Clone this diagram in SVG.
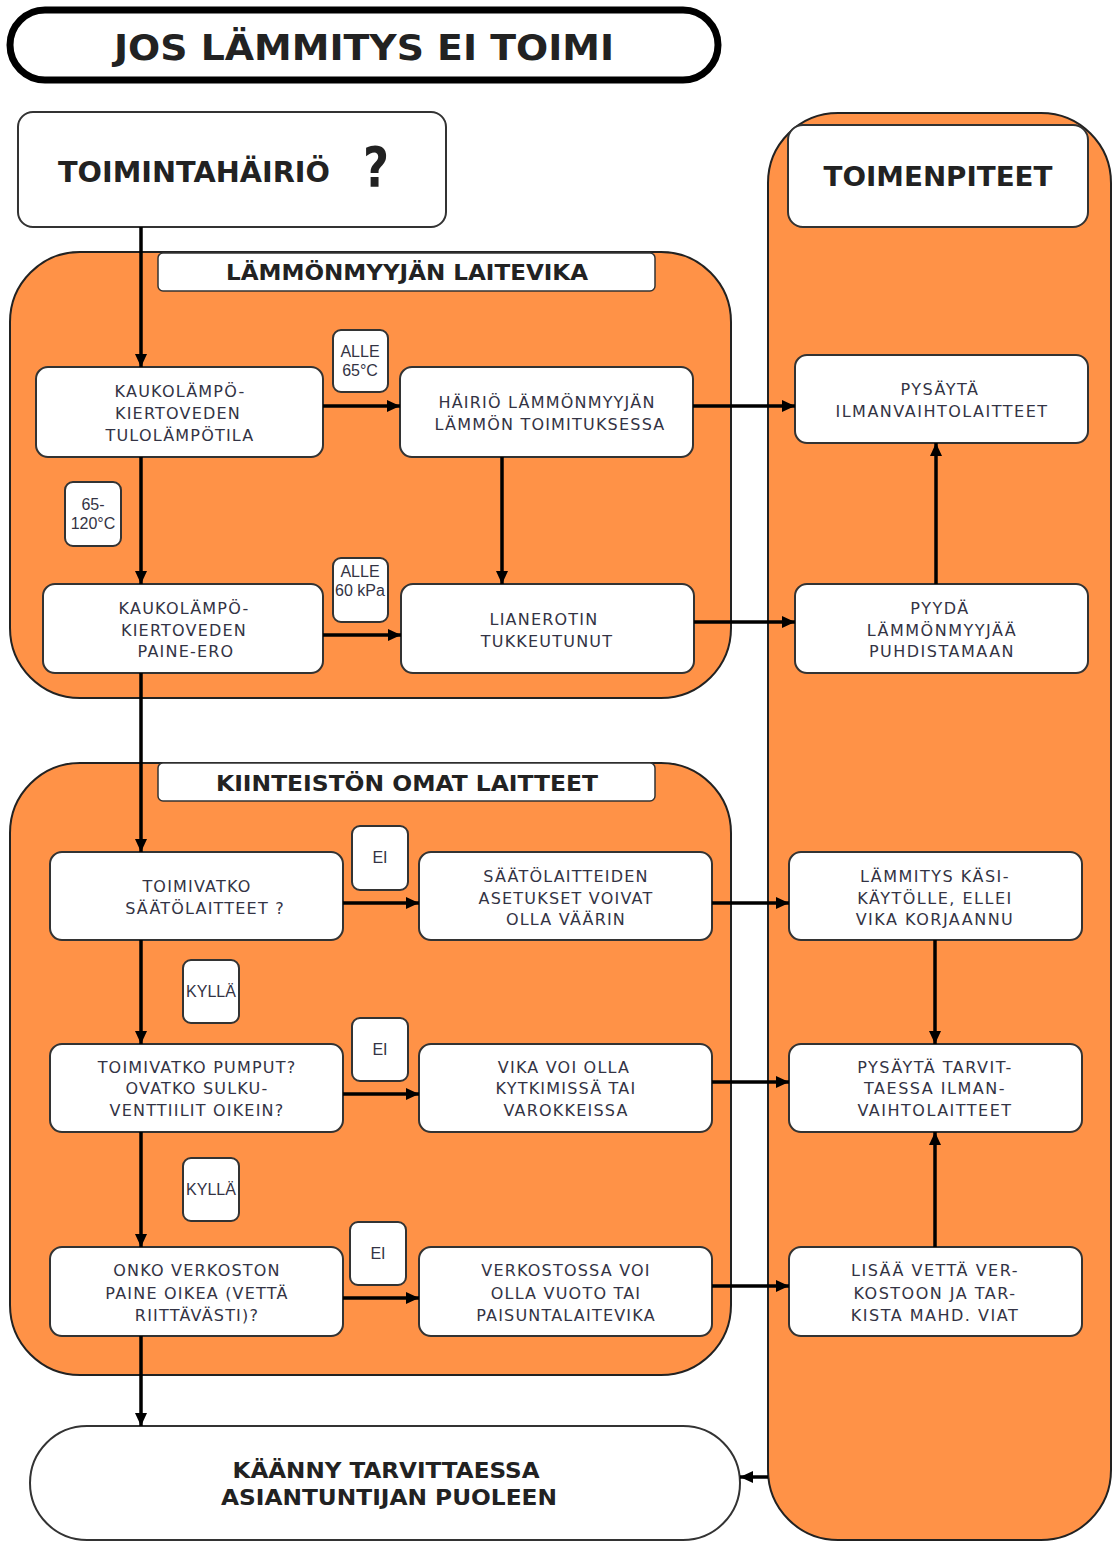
<svg xmlns="http://www.w3.org/2000/svg" width="1113" height="1544" viewBox="0 0 1113 1544">
<style>
.panel{fill:#FF9247;stroke:#222;stroke-width:2}
.box{fill:#fff;stroke:#333;stroke-width:2}
.hdr{fill:#fff;stroke:#333;stroke-width:1.5}
.t{font-family:"DejaVu Sans",Verdana,sans-serif;font-size:16px;letter-spacing:1.2px;fill:#333344;text-anchor:middle}
.tr{font-family:"DejaVu Sans",Verdana,sans-serif;font-size:16px;letter-spacing:1.5px;fill:#333344;text-anchor:middle}
.lbl{font-family:"Liberation Sans",Arial,sans-serif;font-size:16px;fill:#333344;text-anchor:middle}
.b{font-family:"DejaVu Sans",Verdana,sans-serif;font-weight:bold;fill:#222;text-anchor:middle}
.c{fill:none;stroke:#000;stroke-width:3.5;marker-end:url(#ah)}
</style>
<defs>
<marker id="ah" markerUnits="userSpaceOnUse" markerWidth="14" markerHeight="14" refX="13" refY="7" orient="auto">
<path d="M0,1 L13,7 L0,13 z" fill="#000"/>
</marker>
</defs>
<rect width="1113" height="1544" fill="#fff"/>

<g id="title">
<rect x="10" y="10" width="708" height="70" rx="35" fill="#fff" stroke="#000" stroke-width="7"/>
<text class="b" x="364" y="60" font-size="36" textLength="500" lengthAdjust="spacingAndGlyphs">JOS LÄMMITYS EI TOIMI</text>
</g>

<g id="panel-lammonmyyja">
<rect class="panel" x="10" y="252" width="721" height="446" rx="70"/>
<rect class="hdr" x="158" y="253" width="497" height="38" rx="5"/>
<text class="b" x="407" y="280" font-size="22" textLength="362" lengthAdjust="spacingAndGlyphs">LÄMMÖNMYYJÄN LAITEVIKA</text>
</g>

<g id="panel-kiinteisto">
<rect class="panel" x="10" y="763" width="721" height="612" rx="70"/>
<rect class="hdr" x="158" y="763" width="497" height="38" rx="5"/>
<text class="b" x="407" y="791" font-size="22" textLength="382" lengthAdjust="spacingAndGlyphs">KIINTEISTÖN OMAT LAITTEET</text>
</g>

<g id="panel-toimenpiteet">
<rect class="panel" x="768" y="113" width="343" height="1427" rx="70"/>
</g>

<g id="toimintahairio">
<rect class="box" x="18" y="112" width="428" height="115" rx="15"/>
<text class="b" x="194" y="182" font-size="28" textLength="272" lengthAdjust="spacingAndGlyphs">TOIMINTAHÄIRIÖ</text>
<text class="b" x="376" y="186" font-size="56" textLength="26" lengthAdjust="spacingAndGlyphs">?</text>
</g>

<g id="toimenpiteet-header">
<rect class="box" x="788" y="125" width="300" height="102" rx="15"/>
<text class="b" x="938" y="186" font-size="27" textLength="229" lengthAdjust="spacingAndGlyphs">TOIMENPITEET</text>
</g>

<g id="n-tulolampotila">
<rect class="box" x="36" y="367" width="287" height="90" rx="12"/>
<text class="t" x="180" y="397">KAUKOLÄMPÖ-</text>
<text class="t" x="178" y="419">KIERTOVEDEN</text>
<text class="t" x="180" y="441">TULOLÄMPÖTILA</text>
</g>

<g id="l-alle65">
<rect class="box" x="333" y="330" width="55" height="62" rx="8"/>
<text class="lbl" x="360" y="357">ALLE</text>
<text class="lbl" x="360" y="376">65°C</text>
</g>

<g id="n-hairio">
<rect class="box" x="400" y="367" width="293" height="90" rx="12"/>
<text class="t" x="547" y="408">HÄIRIÖ LÄMMÖNMYYJÄN</text>
<text class="t" x="550" y="430">LÄMMÖN TOIMITUKSESSA</text>
</g>

<g id="l-65-120">
<rect class="box" x="65" y="482" width="56" height="64" rx="8"/>
<text class="lbl" x="93" y="510">65-</text>
<text class="lbl" x="93" y="529">120°C</text>
</g>

<g id="n-paine-ero">
<rect class="box" x="43" y="584" width="280" height="89" rx="12"/>
<text class="t" x="184" y="614">KAUKOLÄMPÖ-</text>
<text class="t" x="184" y="636">KIERTOVEDEN</text>
<text class="t" x="186" y="657">PAINE-ERO</text>
</g>

<g id="l-alle60">
<rect class="box" x="333" y="558" width="55" height="64" rx="8"/>
<text class="lbl" x="360" y="577">ALLE</text>
<text class="lbl" x="360" y="596" font-size="15">60 kPa</text>
</g>

<g id="n-lianerotin">
<rect class="box" x="401" y="584" width="293" height="89" rx="12"/>
<text class="t" x="544" y="625">LIANEROTIN</text>
<text class="t" x="547" y="647">TUKKEUTUNUT</text>
</g>

<g id="n-pysayta-ilmanvaihto">
<rect class="box" x="795" y="355" width="293" height="88" rx="12"/>
<text class="tr" x="940" y="395">PYSÄYTÄ</text>
<text class="tr" x="942" y="417">ILMANVAIHTOLAITTEET</text>
</g>

<g id="n-pyyda">
<rect class="box" x="795" y="584" width="293" height="89" rx="12"/>
<text class="tr" x="940" y="614">PYYDÄ</text>
<text class="tr" x="942" y="636">LÄMMÖNMYYJÄÄ</text>
<text class="tr" x="942" y="657">PUHDISTAMAAN</text>
</g>

<g id="n-saatolaitteet">
<rect class="box" x="50" y="852" width="293" height="88" rx="12"/>
<text class="t" x="197" y="892">TOIMIVATKO</text>
<text class="t" x="205" y="914">SÄÄTÖLAITTEET ?</text>
</g>

<g id="l-ei1">
<rect class="box" x="352" y="826" width="56" height="64" rx="8"/>
<text class="lbl" x="380" y="863">EI</text>
</g>

<g id="n-asetukset">
<rect class="box" x="419" y="852" width="293" height="88" rx="12"/>
<text class="t" x="566" y="882">SÄÄTÖLAITTEIDEN</text>
<text class="t" x="566" y="904">ASETUKSET VOIVAT</text>
<text class="t" x="566" y="925">OLLA VÄÄRIN</text>
</g>

<g id="l-kylla1">
<rect class="box" x="183" y="960" width="56" height="63" rx="8"/>
<text class="lbl" x="211" y="997" font-size="15">KYLLÄ</text>
</g>

<g id="n-pumput">
<rect class="box" x="50" y="1044" width="293" height="88" rx="12"/>
<text class="t" x="197" y="1073">TOIMIVATKO PUMPUT?</text>
<text class="t" x="197" y="1094">OVATKO SULKU-</text>
<text class="t" x="197" y="1116">VENTTIILIT OIKEIN?</text>
</g>

<g id="l-ei2">
<rect class="box" x="352" y="1018" width="56" height="63" rx="8"/>
<text class="lbl" x="380" y="1055">EI</text>
</g>

<g id="n-vika">
<rect class="box" x="419" y="1044" width="293" height="88" rx="12"/>
<text class="t" x="564" y="1073">VIKA VOI OLLA</text>
<text class="t" x="566" y="1094">KYTKIMISSÄ TAI</text>
<text class="t" x="566" y="1116">VAROKKEISSA</text>
</g>

<g id="l-kylla2">
<rect class="box" x="183" y="1158" width="56" height="63" rx="8"/>
<text class="lbl" x="211" y="1195" font-size="15">KYLLÄ</text>
</g>

<g id="n-verkosto">
<rect class="box" x="50" y="1247" width="293" height="89" rx="12"/>
<text class="t" x="197" y="1276">ONKO VERKOSTON</text>
<text class="t" x="197" y="1299">PAINE OIKEA (VETTÄ</text>
<text class="t" x="197" y="1321">RIITTÄVÄSTI)?</text>
</g>

<g id="l-ei3">
<rect class="box" x="350" y="1222" width="56" height="63" rx="8"/>
<text class="lbl" x="378" y="1259">EI</text>
</g>

<g id="n-vuoto">
<rect class="box" x="419" y="1247" width="293" height="89" rx="12"/>
<text class="t" x="566" y="1276">VERKOSTOSSA VOI</text>
<text class="t" x="566" y="1299">OLLA VUOTO TAI</text>
<text class="t" x="566" y="1321">PAISUNTALAITEVIKA</text>
</g>

<g id="n-kasikaytto">
<rect class="box" x="789" y="852" width="293" height="88" rx="12"/>
<text class="tr" x="935" y="882">LÄMMITYS KÄSI-</text>
<text class="tr" x="935" y="904">KÄYTÖLLE, ELLEI</text>
<text class="tr" x="935" y="925">VIKA KORJAANNU</text>
</g>

<g id="n-pysayta-tarvittaessa">
<rect class="box" x="789" y="1044" width="293" height="88" rx="12"/>
<text class="tr" x="935" y="1073">PYSÄYTÄ TARVIT-</text>
<text class="tr" x="935" y="1094">TAESSA ILMAN-</text>
<text class="tr" x="935" y="1116">VAIHTOLAITTEET</text>
</g>

<g id="n-lisaa-vetta">
<rect class="box" x="789" y="1247" width="293" height="89" rx="12"/>
<text class="tr" x="935" y="1276">LISÄÄ VETTÄ VER-</text>
<text class="tr" x="935" y="1299">KOSTOON JA TAR-</text>
<text class="tr" x="935" y="1321">KISTA MAHD. VIAT</text>
</g>

<g id="n-asiantuntija">
<rect class="box" x="30" y="1426" width="710" height="114" rx="57"/>
<text class="b" x="386" y="1478" font-size="22" textLength="307" lengthAdjust="spacingAndGlyphs">KÄÄNNY TARVITTAESSA</text>
<text class="b" x="389" y="1505" font-size="22" textLength="336" lengthAdjust="spacingAndGlyphs">ASIANTUNTIJAN PUOLEEN</text>
</g>

<g id="connectors">
<path class="c" d="M141,227 V367"/>
<path class="c" d="M323,406 H400"/>
<path class="c" d="M141,457 V584"/>
<path class="c" d="M502,457 V584"/>
<path class="c" d="M323,635 H401"/>
<path class="c" d="M693,406 H795"/>
<path class="c" d="M694,622 H795"/>
<path class="c" d="M936,584 V443"/>
<path class="c" d="M141,673 V852"/>
<path class="c" d="M343,903 H419"/>
<path class="c" d="M141,940 V1044"/>
<path class="c" d="M343,1094 H419"/>
<path class="c" d="M141,1132 V1247"/>
<path class="c" d="M343,1298 H419"/>
<path class="c" d="M141,1336 V1426"/>
<path class="c" d="M712,903 H789"/>
<path class="c" d="M712,1082 H789"/>
<path class="c" d="M712,1286 H789"/>
<path class="c" d="M935,940 V1044"/>
<path class="c" d="M935,1247 V1132"/>
<path class="c" d="M768,1477 H740"/>
</g>
</svg>
